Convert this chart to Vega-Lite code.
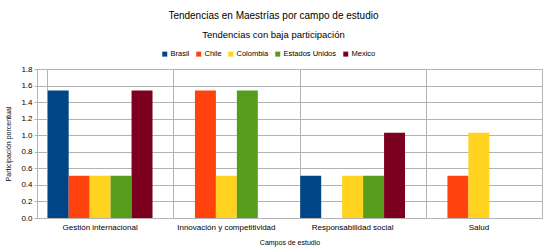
{
  "$schema": "https://vega.github.io/schema/vega-lite/v6.json",
  "width": 505,
  "height": 149,
  "autosize": {"type": "none"},
  "padding": {"left": 37, "top": 69, "right": 15, "bottom": 32},
  "background": "white",
  "title": {
    "text": "Tendencias en Maestrías por campo de estudio",
    "subtitle": "Tendencias con baja participación",
    "font": "Liberation Sans",
    "fontSize": 10,
    "fontWeight": "normal",
    "color": "#000000",
    "subtitleFont": "Liberation Sans",
    "subtitleFontSize": 9.5,
    "subtitleColor": "#000000",
    "subtitlePadding": 9,
    "anchor": "middle",
    "frame": "bounds",
    "offset": 11
  },
  "data": {
    "values": [
      {"campo": "Gestión internacional", "pais": "Brasil", "valor": 1.54},
      {"campo": "Gestión internacional", "pais": "Chile", "valor": 0.51},
      {"campo": "Gestión internacional", "pais": "Colombia", "valor": 0.51},
      {"campo": "Gestión internacional", "pais": "Estados Unidos", "valor": 0.51},
      {"campo": "Gestión internacional", "pais": "Mexico", "valor": 1.54},
      {"campo": "Innovación y competitividad", "pais": "Chile", "valor": 1.54},
      {"campo": "Innovación y competitividad", "pais": "Colombia", "valor": 0.51},
      {"campo": "Innovación y competitividad", "pais": "Estados Unidos", "valor": 1.54},
      {"campo": "Responsabilidad social", "pais": "Brasil", "valor": 0.51},
      {"campo": "Responsabilidad social", "pais": "Colombia", "valor": 0.51},
      {"campo": "Responsabilidad social", "pais": "Estados Unidos", "valor": 0.51},
      {"campo": "Responsabilidad social", "pais": "Mexico", "valor": 1.03},
      {"campo": "Salud", "pais": "Chile", "valor": 0.51},
      {"campo": "Salud", "pais": "Colombia", "valor": 1.03}
    ]
  },
  "mark": {"type": "bar"},
  "encoding": {
    "x": {
      "field": "campo",
      "type": "nominal",
      "sort": null,
      "scale": {"paddingInner": 0.17, "paddingOuter": 0.085},
      "axis": {
        "title": "Campos de estudio",
        "labelAngle": 0,
        "labelFont": "Liberation Sans",
        "labelFontSize": 8,
        "labelColor": "#000000",
        "titleFont": "Liberation Sans",
        "titleFontSize": 7,
        "titleFontWeight": "normal",
        "titleColor": "#000000",
        "titlePadding": 7,
        "labelPadding": 5,
        "grid": true,
        "gridColor": "#b3b3b3",
        "bandPosition": 0,
        "domainColor": "#b3b3b3",
        "ticks": false
      }
    },
    "xOffset": {
      "field": "pais",
      "type": "nominal",
      "scale": {"domain": ["Brasil", "Chile", "Colombia", "Estados Unidos", "Mexico"], "paddingInner": 0, "paddingOuter": 0}
    },
    "y": {
      "field": "valor",
      "type": "quantitative",
      "scale": {"domain": [0, 1.8]},
      "axis": {
        "title": "Participación porcentual",
        "values": [0, 0.2, 0.4, 0.6, 0.8, 1.0, 1.2, 1.4, 1.6, 1.8],
        "format": ".1f",
        "labelFont": "Liberation Sans",
        "labelFontSize": 8,
        "labelColor": "#000000",
        "titleFont": "Liberation Sans",
        "titleFontSize": 7,
        "titleFontWeight": "normal",
        "titleColor": "#000000",
        "titlePadding": 9,
        "gridColor": "#b3b3b3",
        "domainColor": "#b3b3b3",
        "tickColor": "#b3b3b3",
        "tickSize": 3,
        "labelPadding": 2
      }
    },
    "color": {
      "field": "pais",
      "type": "nominal",
      "scale": {
        "domain": ["Brasil", "Chile", "Colombia", "Estados Unidos", "Mexico"],
        "range": ["#004586", "#ff420e", "#ffd320", "#579d1c", "#7e0021"]
      },
      "legend": {
        "orient": "none",
        "legendX": 124,
        "legendY": -19,
        "direction": "horizontal",
        "title": null,
        "symbolType": "square",
        "symbolSize": 25,
        "symbolStrokeWidth": 0,
        "labelFont": "Liberation Sans",
        "labelFontSize": 7.5,
        "labelColor": "#000000",
        "columnPadding": 5,
        "symbolOffset": 0,
        "labelOffset": 2
      }
    }
  },
  "config": {
    "view": {"stroke": "#b3b3b3"},
    "legend": {"symbolOpacity": 1}
  }
}
